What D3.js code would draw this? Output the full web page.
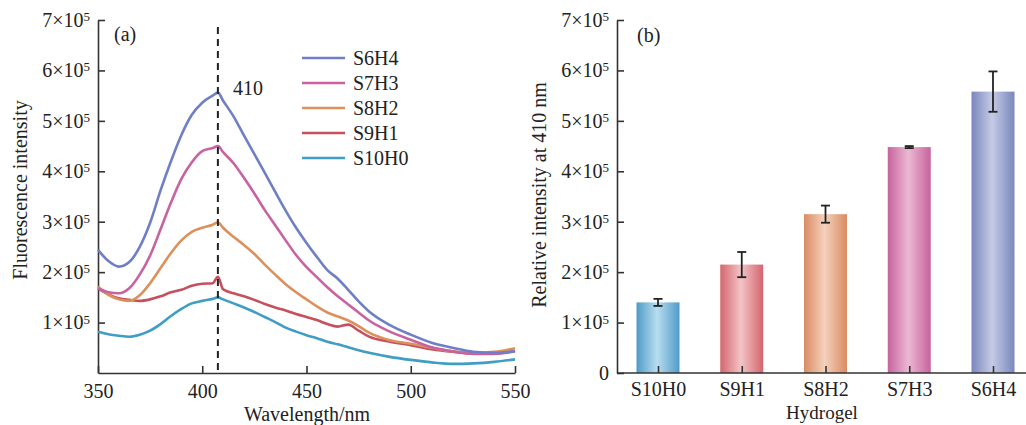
<!DOCTYPE html>
<head>
    <meta charset="utf-8">
    <script src="https://d3js.org/d3.v7.min.js"></script>
    <style>
      body { margin: 0; background: #fff; }
      text {
        font-family: "Liberation Serif", "DejaVu Serif", serif;
        fill: #222;
      }
      .tick text { font-size: 20px; }
      .axis path, .axis line { stroke: #333; stroke-width: 1.6; }
    </style>
<body>
    <script>
        // ---- data (panel a) ----
        var wavelengths = [350,355,360,365,370,375,380,385,390,395,400,405,407.5,410,415,420,425,430,435,440,445,450,455,460,465,470,475,480,490,500,510,520,530,540,550]
        var s6h4  = [2.44,2.22,2.11,2.20,2.50,2.98,3.62,4.20,4.72,5.12,5.36,5.50,5.56,5.40,5.09,4.71,4.34,3.97,3.59,3.22,2.88,2.58,2.30,2.04,1.87,1.65,1.42,1.22,0.95,0.76,0.60,0.50,0.42,0.40,0.43]
        var s7h3  = [1.68,1.60,1.58,1.68,1.95,2.33,2.85,3.38,3.85,4.18,4.40,4.46,4.50,4.38,4.16,3.87,3.56,3.23,2.93,2.63,2.34,2.10,1.90,1.70,1.52,1.36,1.20,1.04,0.82,0.66,0.51,0.43,0.38,0.38,0.43]
        var s8h2  = [1.71,1.55,1.46,1.43,1.54,1.78,2.08,2.38,2.63,2.80,2.88,2.94,2.99,2.88,2.70,2.54,2.36,2.15,1.95,1.76,1.60,1.46,1.32,1.20,1.12,1.04,0.93,0.80,0.65,0.58,0.50,0.43,0.40,0.42,0.49]
        var s9h1  = [1.68,1.56,1.48,1.45,1.43,1.46,1.52,1.60,1.65,1.73,1.77,1.78,1.91,1.66,1.58,1.52,1.45,1.37,1.30,1.24,1.17,1.11,1.05,0.97,0.92,0.96,0.84,0.72,0.62,0.55,0.47,0.42,0.39,0.39,0.44]
        var s10h0 = [0.82,0.77,0.74,0.72,0.76,0.84,0.97,1.13,1.27,1.38,1.43,1.47,1.50,1.46,1.38,1.30,1.21,1.11,1.01,0.90,0.82,0.75,0.69,0.62,0.57,0.51,0.45,0.40,0.32,0.26,0.21,0.18,0.19,0.22,0.27]
        var seriesNames = ["S6H4","S7H3","S8H2","S9H1","S10H0"]
        var seriesValues = [s6h4, s7h3, s8h2, s9h1, s10h0]
        var seriesColors = ["#6f7fc5","#c862a0","#dc915d","#c6505d","#3f9dc6"]
        var peakWavelength = 407.5
        var xTicksA = [350,400,450,500,550]
        var yTicks = [1,2,3,4,5,6,7]

        // ---- data (panel b) ----
        var hydrogels = ["S10H0","S9H1","S8H2","S7H3","S6H4"]
        var intensity410 = [1.40,2.15,3.15,4.48,5.58]
        var intensityErr = [0.07,0.25,0.17,0.02,0.40]
        var barEdge = ["#4f9bc8","#d4656d","#d98c62","#c7639c","#7a86bd"]
        var barMid  = ["#b8ddef","#f3c4c7","#f5d1bd","#ebb8d3","#c5cbe5"]

        var svg = d3.select("body").append("svg")
          .attr("width", 1026).attr("height", 425)

        function supLabels(sel, zeroLabel) {
          sel.selectAll(".tick text").each(function(d){
            var t = d3.select(this).text(null)
            if (d === 0) { t.text(zeroLabel); return }
            t.append("tspan").text(d + "×10")
            t.append("tspan").attr("dy", "-0.45em").attr("font-size", "13px").text("5")
          })
        }

        // ================= PANEL A =================
        var xA = d3.scaleLinear().domain([350, 550]).range([98, 515])
        var yA = d3.scaleLinear().domain([0, 7]).range([373, 20])

        var gA = svg.append("g")

        gA.append("g").attr("class", "axis")
          .attr("transform", "translate(0,373)")
          .call(d3.axisBottom(xA).tickValues(xTicksA).tickSizeInner(-7).tickSizeOuter(0).tickPadding(11))

        gA.append("g").attr("class", "axis")
          .attr("transform", "translate(98,0)")
          .call(d3.axisLeft(yA).tickValues(yTicks).tickSizeInner(-7).tickSizeOuter(0).tickPadding(8))
          .call(supLabels, "")

        var line = d3.line()
          .x(function(d){ return xA(d[0]) })
          .y(function(d){ return yA(d[1]) })
          .curve(d3.curveMonotoneX)

        // draw lowest first so upper curves lie on top
        for (var i = seriesNames.length - 1; i >= 0; i--) {
          var pts = wavelengths.map(function(w, j){ return [w, seriesValues[i][j]] })
          gA.append("path")
            .datum(pts)
            .attr("d", line)
            .attr("fill", "none")
            .attr("stroke", seriesColors[i])
            .attr("stroke-width", 2.6)
            .attr("stroke-linejoin", "round")
        }

        gA.append("line")
          .attr("x1", xA(peakWavelength)).attr("x2", xA(peakWavelength))
          .attr("y1", 27).attr("y2", 373)
          .attr("stroke", "#222").attr("stroke-width", 2)
          .attr("stroke-dasharray", "7,5")

        gA.append("text").attr("x", 233).attr("y", 95).attr("font-size", "20px").text("410")
        gA.append("text").attr("x", 114).attr("y", 41).attr("font-size", "20px").text("(a)")

        // legend
        var leg = gA.selectAll(".leg").data(seriesNames).enter().append("g")
          .attr("transform", function(d, i){ return "translate(302," + (58 + i * 25) + ")" })
        leg.append("line").attr("x1", 0).attr("x2", 43)
          .attr("stroke", function(d, i){ return seriesColors[i] })
          .attr("stroke-width", 2.6)
        leg.append("text").attr("x", 51).attr("y", 7).attr("font-size", "20px").text(function(d){ return d })

        gA.append("text")
          .attr("transform", "translate(27,190) rotate(-90)")
          .attr("text-anchor", "middle").attr("font-size", "20px")
          .text("Fluorescence intensity")
        gA.append("text")
          .attr("x", 307).attr("y", 421)
          .attr("text-anchor", "middle").attr("font-size", "20px")
          .text("Wavelength/nm")

        // ================= PANEL B =================
        var xB = d3.scalePoint().domain(hydrogels).range([658, 993])
        var yB = d3.scaleLinear().domain([0, 7]).range([373, 20])
        var barW = 43

        var defs = svg.append("defs")
        hydrogels.forEach(function(h, i){
          var gr = defs.append("linearGradient").attr("id", "bar" + i)
            .attr("x1", "0%").attr("x2", "100%").attr("y1", "0%").attr("y2", "0%")
          gr.append("stop").attr("offset", "0%").attr("stop-color", barEdge[i])
          gr.append("stop").attr("offset", "48%").attr("stop-color", barMid[i])
          gr.append("stop").attr("offset", "100%").attr("stop-color", barEdge[i])
        })

        var gB = svg.append("g")

        gB.selectAll(".bar").data(hydrogels).enter().append("rect")
          .attr("class", "bar")
          .attr("x", function(d){ return xB(d) - barW / 2 })
          .attr("width", barW)
          .attr("y", function(d, i){ return yB(intensity410[i]) })
          .attr("height", function(d, i){ return yB(0) - yB(intensity410[i]) })
          .attr("fill", function(d, i){ return "url(#bar" + i + ")" })

        var eb = gB.selectAll(".err").data(hydrogels).enter().append("g")
          .attr("stroke", "#222").attr("stroke-width", 1.8)
        eb.append("line")
          .attr("x1", function(d){ return xB(d) }).attr("x2", function(d){ return xB(d) })
          .attr("y1", function(d, i){ return yB(intensity410[i] + intensityErr[i]) })
          .attr("y2", function(d, i){ return yB(intensity410[i] - intensityErr[i]) })
        eb.append("line")
          .attr("x1", function(d){ return xB(d) - 4.5 }).attr("x2", function(d){ return xB(d) + 4.5 })
          .attr("y1", function(d, i){ return yB(intensity410[i] + intensityErr[i]) })
          .attr("y2", function(d, i){ return yB(intensity410[i] + intensityErr[i]) })
        eb.append("line")
          .attr("x1", function(d){ return xB(d) - 4.5 }).attr("x2", function(d){ return xB(d) + 4.5 })
          .attr("y1", function(d, i){ return yB(intensity410[i] - intensityErr[i]) })
          .attr("y2", function(d, i){ return yB(intensity410[i] - intensityErr[i]) })

        gB.append("g").attr("class", "axis")
          .attr("transform", "translate(0,373)")
          .call(d3.axisBottom(xB).tickSizeInner(-7).tickSizeOuter(0).tickPadding(9))
          .call(function(g){ g.select(".domain").attr("d", "M617,0H1026") })

        gB.append("g").attr("class", "axis")
          .attr("transform", "translate(617,0)")
          .call(d3.axisLeft(yB).tickValues([0].concat(yTicks)).tickSizeInner(-7).tickSizeOuter(0).tickPadding(8))
          .call(supLabels, "0")

        gB.append("text").attr("x", 637).attr("y", 42).attr("font-size", "20px").text("(b)")
        gB.append("text")
          .attr("transform", "translate(546,195) rotate(-90)")
          .attr("text-anchor", "middle").attr("font-size", "20px")
          .text("Relative intensity at 410 nm")
        gB.append("text")
          .attr("x", 822).attr("y", 419)
          .attr("text-anchor", "middle").attr("font-size", "19px")
          .text("Hydrogel")
    </script>
</body>
